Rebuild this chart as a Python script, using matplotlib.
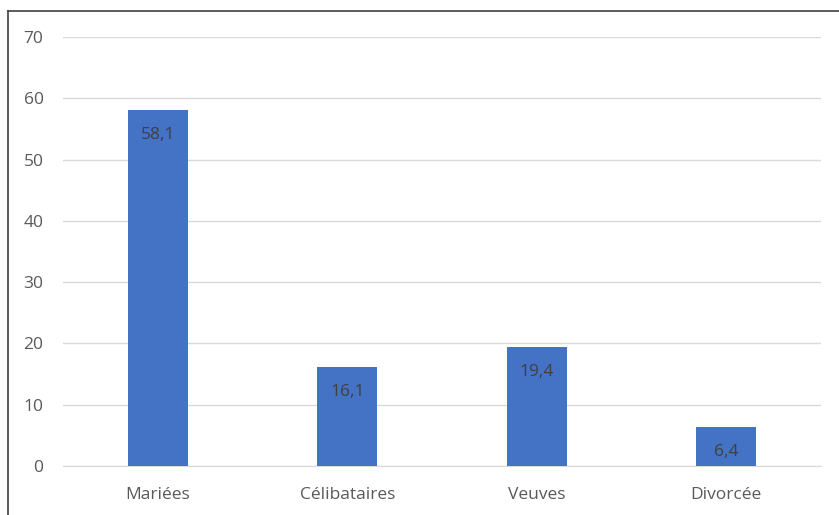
import matplotlib
matplotlib.use("Agg")
import matplotlib.pyplot as plt
from matplotlib.lines import Line2D

categories = ["Mariées", "Célibataires", "Veuves", "Divorcée"]
values = [58.1, 16.1, 19.4, 6.4]
value_labels = ["58,1", "16,1", "19,4", "6,4"]
yticks = [0, 10, 20, 30, 40, 50, 60, 70]

plt.rcParams['font.family'] = ['Open Sans', 'DejaVu Sans']

fig = plt.figure(figsize=(8.39, 5.15), dpi=100)
ax = fig.add_axes([63/839, 1-466/515, (821-63)/839, (466-37)/515])

x = list(range(len(categories)))
bars = ax.bar(x, values, width=0.317, color="#4472C4", zorder=3)
for b, lab in zip(bars, value_labels):
    ax.annotate(lab, (b.get_x() + b.get_width()/2, b.get_height()),
                xytext=(0, -18), textcoords="offset points",
                ha="center", va="center", fontsize=12.5, color="#404040", zorder=4)

ax.set_xlim(-0.5, 3.5)
ax.set_ylim(0, 70)
ax.set_yticks(yticks)
ax.set_yticklabels([str(t) for t in yticks])
ax.set_xticks(x)
ax.set_xticklabels(categories)
ax.yaxis.grid(True, color="#D9D9D9", linewidth=1)
ax.set_axisbelow(True)
for s in ["top", "right", "left"]:
    ax.spines[s].set_visible(False)
ax.spines["bottom"].set_color("#D9D9D9")
ax.tick_params(axis="both", length=0, colors="#595959", labelsize=12.5)
ax.tick_params(axis="y", pad=14)
ax.tick_params(axis="x", pad=15)

fig.add_artist(Line2D([8/839, 1], [1-11/515, 1-11/515], transform=fig.transFigure,
                      color="#404040", linewidth=1.2))
fig.add_artist(Line2D([8/839, 8/839], [1-11/515, 0], transform=fig.transFigure,
                      color="#404040", linewidth=1.2))

fig.savefig("out.png", dpi=100, facecolor="white")
